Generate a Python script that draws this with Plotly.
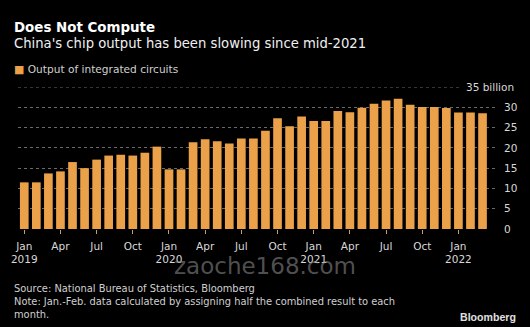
import plotly.graph_objects as go

months = ["Jan", "Feb", "Mar", "Apr", "May", "Jun", "Jul", "Aug", "Sep", "Oct", "Nov", "Dec"]
categories = [f"{m} {y}" for y in (2019, 2020, 2021) for m in months] + ["Jan 2022", "Feb 2022", "Mar 2022"]

output_bn = [
    11.5, 11.5, 13.7, 14.2, 16.5, 15.0, 17.1, 18.1, 18.3, 18.1, 18.8, 20.3,
    14.7, 14.7, 21.4, 22.1, 21.6, 21.1, 22.3, 22.3, 24.2, 27.3, 25.3, 27.7,
    26.6, 26.6, 29.1, 28.8, 29.9, 30.9, 31.7, 32.1, 30.6, 30.1, 30.1, 29.8,
    28.7, 28.7, 28.5,
]

tick_cats = ["Jan 2019", "Apr 2019", "Jul 2019", "Oct 2019", "Jan 2020", "Apr 2020", "Jul 2020",
             "Oct 2020", "Jan 2021", "Apr 2021", "Jul 2021", "Oct 2021", "Jan 2022"]
tick_text = ["Jan<br>2019", "Apr", "Jul", "Oct", "Jan<br>2020", "Apr", "Jul", "Oct",
             "Jan<br>2021", "Apr", "Jul", "Oct", "Jan<br>2022"]
y_ticks = [0, 5, 10, 15, 20, 25, 30]

BAR = "#EBA04A"
FONT = "DejaVu Sans"

fig = go.Figure()
fig.add_trace(go.Bar(x=categories, y=output_bn, marker=dict(color=BAR, line=dict(width=0)),
                     width=0.72, name="Output of integrated circuits", showlegend=False))

fig.update_layout(
    width=530, height=327,
    paper_bgcolor="#000000", plot_bgcolor="#000000",
    margin=dict(l=18, r=33, t=87, b=98),
    font=dict(family=FONT, color="#d8d8d8", size=10.5),
    xaxis=dict(type="category", range=[-0.52, 39.2], tickmode="array", tickvals=tick_cats,
               ticktext=tick_text, ticks="outside", ticklen=4, tickcolor="#c0a070",
               tickwidth=1, showgrid=False, zeroline=False, showline=False,
               ticklabelstandoff=3,
               tickfont=dict(size=10.5, color="#d8d8d8", family=FONT)),
    yaxis=dict(side="right", range=[0, 35], tickmode="array", tickvals=y_ticks,
               showgrid=True, gridcolor="#6a6a6a", griddash="dot", gridwidth=1,
               zeroline=False, ticks="", ticklabelstandoff=6,
               tickfont=dict(size=10.5, color="#d8d8d8", family=FONT)),
    bargap=0.28,
    showlegend=False,
)

fig.add_shape(type="line", xref="paper", yref="y", x0=0, x1=0.925, y0=35, y1=35,
              line=dict(color="#6a6a6a", width=1, dash="dot"), layer="below")

ann = [
    dict(text="35 billion", xref="paper", yref="y", x=1.04, y=35, xanchor="right", yanchor="middle",
         font=dict(size=10.5, color="#d8d8d8")),
    dict(text="<b>Does Not Compute</b>", xref="paper", yref="paper", x=-6 / 479, y=1 + (87 - 27.5) / 142,
         xanchor="left", yanchor="middle", font=dict(size=13.4, color="#ffffff")),
    dict(text="China's chip output has been slowing since mid-2021", xref="paper", yref="paper",
         x=-6 / 479, y=1 + (87 - 44) / 142, xanchor="left", yanchor="middle",
         font=dict(size=13.2, color="#f0f0f0")),
    dict(text=f"<span style='color:{BAR};font-size:11px'>■</span> Output of integrated circuits",
         xref="paper", yref="paper",
         x=-6 / 479, y=1 + (87 - 69) / 142, xanchor="left", yanchor="middle",
         font=dict(size=10.6, color="#d0d0d0")),
    dict(text="Source: National Bureau of Statistics, Bloomberg<br>Note: Jan.-Feb. data calculated by assigning half the combined result to each<br>month.",
         xref="paper", yref="paper", x=-6 / 479, y=-(288 - 229 - 7) / 142, xanchor="left", yanchor="top",
         align="left", font=dict(size=9.9, color="#d0d0d0")),
    dict(text="<b>Bloomberg</b>", xref="paper", yref="paper", x=(518 - 18) / 479, y=-(317 - 229) / 142,
         xanchor="right", yanchor="middle", font=dict(size=10.6, color="#e0e0e0", family="Liberation Sans")),
    dict(text="zaoche168.com", xref="paper", yref="paper", x=(265 - 18) / 479, y=-(266 - 229) / 142,
         xanchor="center", yanchor="middle",
         font=dict(size=23, color="rgba(150,150,150,0.55)", family=FONT)),
]
for a in ann:
    a.setdefault("showarrow", False)
    fig.add_annotation(**a)

fig.write_html("out.html")
